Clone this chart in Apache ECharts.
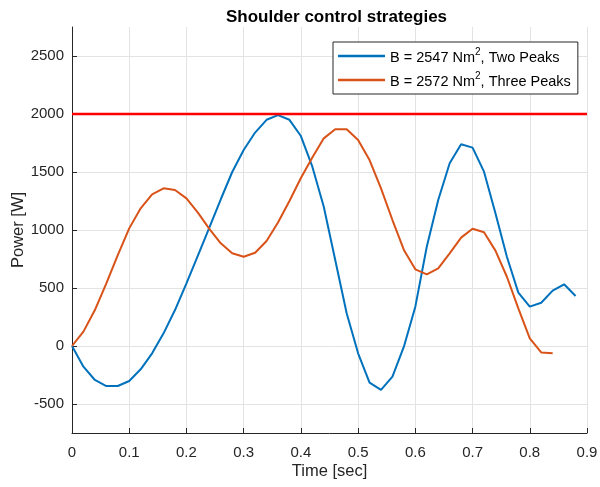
<!DOCTYPE html>
<html>
<head>
<meta charset="utf-8">
<script src="https://cdn.jsdelivr.net/npm/echarts@6/dist/echarts.min.js"></script>
<style>html,body{margin:0;padding:0;background:#fff}#c{width:600px;height:487px}</style>
</head>
<body>
<div id="c"></div>
<script>
// Time samples [sec]
var tTwo = [0,0.02,0.04,0.06,0.08,0.10,0.12,0.14,0.16,0.18,0.20,0.22,0.24,0.26,0.28,0.30,0.32,0.34,0.36,0.38,0.40,0.42,0.44,0.46,0.48,0.50,0.52,0.54,0.56,0.58,0.60,0.62,0.64,0.66,0.68,0.70,0.72,0.74,0.76,0.78,0.80,0.82,0.84,0.86,0.88];
var powerTwo = [0,-178,-293,-345,-345,-302,-201,-63,109,310,540,780,1020,1265,1500,1690,1840,1950,1990,1950,1810,1546,1201,741,282,-63,-316,-379,-264,-6,339,856,1259,1575,1739,1710,1503,1144,770,460,339,373,477,532,431];
var tThree = [0,0.02,0.04,0.06,0.08,0.10,0.12,0.14,0.16,0.18,0.20,0.22,0.24,0.26,0.28,0.30,0.32,0.34,0.36,0.38,0.40,0.42,0.44,0.46,0.48,0.50,0.52,0.54,0.56,0.58,0.60,0.62,0.64,0.66,0.68,0.70,0.72,0.74,0.76,0.78,0.80,0.82,0.84];
var powerThree = [0,124,310,540,784,1014,1187,1308,1359,1345,1273,1150,1010,885,800,770,804,905,1065,1250,1448,1625,1790,1868,1868,1776,1603,1359,1086,828,661,618,670,799,934,1011,980,822,597,325,66,-55,-63];
var limitT = [0, 0.9];
var limitP = [2000, 2000];
var yTicks = [-500,0,500,1000,1500,2000,2500];
var nameTwo = 'B = 2547 Nm2, Two Peaks';
var nameThree = 'B = 2572 Nm2, Three Peaks';
var legendRich = {};
legendRich[nameTwo] = ['B = 2547 Nm', '2', ', Two Peaks'];
legendRich[nameThree] = ['B = 2572 Nm', '2', ', Three Peaks'];

function zip(a, b) { return a.map(function (v, i) { return [v, b[i]]; }); }

var txt = '#262626';
var font = 'Liberation Sans, Arial, sans-serif';
var chart = echarts.init(document.getElementById('c'));
chart.setOption({
  animation: false,
  backgroundColor: '#ffffff',
  title: {
    text: 'Shoulder control strategies',
    left: 221, top: 4,
    textStyle: { fontFamily: font, fontSize: 17, fontWeight: 'bold', color: '#000' }
  },
  grid: { left: 72, right: 13, top: 27, bottom: 54, containLabel: false, outerBoundsMode: 'none' },
  legend: {
    orient: 'vertical',
    left: 333, top: 42,
    data: [nameTwo, nameThree],
    icon: 'rect', itemWidth: 47, itemHeight: 2.5, itemGap: 6,
    padding: [5, 7, 5, 5],
    borderColor: txt, borderWidth: 1, backgroundColor: '#fff',
    formatter: function (n) { var p = legendRich[n]; return '{n|' + p[0] + '}{s|' + p[1] + '}{n|' + p[2] + '}'; },
    textStyle: {
      fontFamily: font, fontSize: 14.5, color: '#000',
      rich: {
        n: { fontFamily: font, fontSize: 14.5, color: '#000', verticalAlign: 'bottom', lineHeight: 18 },
        s: { fontFamily: font, fontSize: 10, color: '#000', verticalAlign: 'top', lineHeight: 10 }
      }
    }
  },
  xAxis: {
    type: 'value', min: 0, max: 0.9, interval: 0.1,
    name: 'Time [sec]', nameLocation: 'middle', nameGap: 30, nameMoveOverlap: false,
    nameTextStyle: { fontFamily: font, fontSize: 16.5, color: txt },
    axisLine: { show: true, onZero: false, lineStyle: { color: txt, width: 1 } },
    axisTick: { show: true, inside: true, length: 5, lineStyle: { color: txt } },
    axisLabel: { fontFamily: font, fontSize: 15, color: txt, margin: 12,
      formatter: function (v) { return String(Math.round(v * 10) / 10); } },
    splitLine: { show: true, lineStyle: { color: '#e3e3e3', width: 1 } }
  },
  yAxis: {
    type: 'value', min: -750, max: 2750, splitNumber: 7,
    name: 'Power [W]', nameLocation: 'middle', nameGap: 45, nameRotate: 90, nameMoveOverlap: false,
    nameTextStyle: { fontFamily: font, fontSize: 16.5, color: txt },
    axisLine: { show: true, onZero: false, lineStyle: { color: txt, width: 1 } },
    axisTick: { show: true, inside: true, length: 5, lineStyle: { color: txt }, customValues: yTicks },
    axisLabel: { fontFamily: font, fontSize: 15, color: txt, margin: 8, customValues: yTicks,
      formatter: function (v) { return String(v); } },
    splitLine: { show: true, lineStyle: { color: '#e3e3e3', width: 1 } }
  },
  series: [
    { name: nameTwo, type: 'line', data: zip(tTwo, powerTwo), showSymbol: false, symbol: 'none',
      lineStyle: { color: '#0072BD', width: 2 }, itemStyle: { color: '#0072BD' } },
    { name: nameThree, type: 'line', data: zip(tThree, powerThree), showSymbol: false, symbol: 'none',
      lineStyle: { color: '#D95319', width: 2 }, itemStyle: { color: '#D95319' } },
    { name: 'limit', type: 'line', data: zip(limitT, limitP), showSymbol: false, symbol: 'none',
      lineStyle: { color: '#FF0000', width: 2.5 }, itemStyle: { color: '#FF0000' }, z: 3 }
  ]
});
</script>
</body>
</html>
